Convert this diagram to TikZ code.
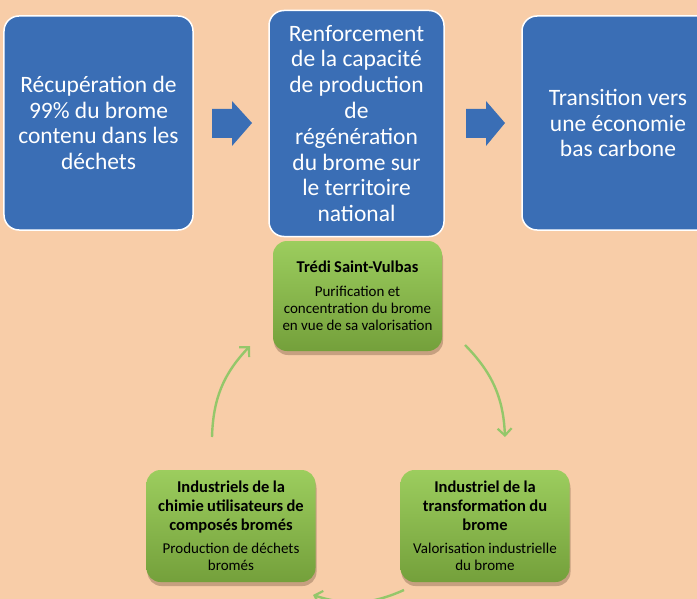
\documentclass[tikz,border=0pt]{standalone}
\usepackage{fontspec}
\setmainfont{Carlito}
\usetikzlibrary{arrows.meta}
\definecolor{bg}{HTML}{F8CDA8}
\definecolor{bblue}{HTML}{3A6EB5}
\definecolor{gtop}{HTML}{9CCD5E}
\definecolor{gbot}{HTML}{74A03B}
\definecolor{garrow}{HTML}{94C76A}
\definecolor{gshadow}{HTML}{8A6A50}
\tikzset{
  bluebox/.style={draw=white, line width=1.5bp, fill=bblue, rounded corners=15bp,
    text=white, align=center, inner sep=0pt,
    font=\fontsize{23.5bp}{25.8bp}\selectfont},
  greenbox/.style={rounded corners=14bp, top color=gtop, bottom color=gbot,
    minimum width=169bp, minimum height=112bp, text width=168bp, align=center, inner sep=0pt,
    text=black,
    preaction={fill=gshadow, fill opacity=0.45, transform canvas={xshift=1bp, yshift=-4bp}}},
  blockarrow/.style={fill=bblue, draw=none},
  cyclearrow/.style={draw=garrow, line width=2.4bp, -{Straight Barb[length=7bp,width=14bp,line width=2.2bp]}, bend left=21},
}
\newcommand{\gtitlefont}{\bfseries\fontsize{16.5bp}{19bp}\selectfont}
\newcommand{\gbodyfont}{\fontsize{15bp}{17.3bp}\selectfont}
\begin{document}
\begin{tikzpicture}[x=1bp,y=-1bp]
\fill[bg] (0,0) rectangle (697,599);
\useasboundingbox (0,0) rectangle (697,599);
\begin{scope}
\clip (0,0) rectangle (697,599);

% blue boxes
\node[bluebox, minimum width=189bp, minimum height=214bp] (b1) at (98.5,123)
  {Récupération de\\99\% du brome\\contenu dans les\\déchets};
\node[bluebox, minimum width=175bp, minimum height=226bp] (b2) at (356.5,123.5)
  {Renforcement\\de la capacité\\de production\\de\\régénération\\du brome sur\\le territoire\\national};
\node[bluebox, minimum width=192bp, minimum height=214bp] (b3) at (618,123)
  {Transition vers\\une économie\\bas carbone};

% block arrows
\fill[blockarrow] (212,109) -- (232,109) -- (232,101) -- (252,123) -- (232,146) -- (232,138) -- (212,138) -- cycle;
\fill[blockarrow] (466,109) -- (486,109) -- (486,101) -- (505,123) -- (486,146) -- (486,138) -- (466,138) -- cycle;

% green boxes
\node[greenbox, minimum height=110bp] (g1) at (357.5,296)
  {{\gtitlefont Trédi Saint-Vulbas\par}\vspace{6bp}{\gbodyfont Purification et\\concentration du brome\\en vue de sa valorisation\par}};
\node[greenbox] (g2) at (231,526)
  {{\gtitlefont Industriels de la\\chimie utilisateurs de\\composés bromés\par}\vspace{5bp}{\gbodyfont Production de déchets\\bromés\par}};
\node[greenbox] (g3) at (485,526)
  {{\gtitlefont Industriel de la\\transformation du\\brome\par}\vspace{5bp}{\gbodyfont Valorisation industrielle\\du brome\par}};

% cycle arrows
\coordinate (l1) at (212,437);
\coordinate (l2) at (250,346);
\coordinate (r1) at (465,345);
\coordinate (r2) at (505,437);
\coordinate (d1) at (404,590);
\coordinate (d2) at (313,595);
\draw[cyclearrow] (l1) to (l2);
\draw[cyclearrow] (r1) to (r2);
\draw[cyclearrow] (d1) to (d2);
\end{scope}
\end{tikzpicture}
\end{document}
